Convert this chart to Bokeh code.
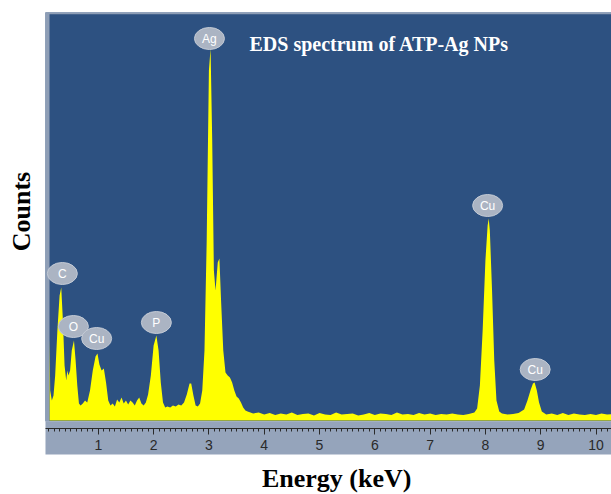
import math
from bokeh.plotting import figure
from bokeh.models import Label, Range1d, SingleIntervalTicker, ColumnDataSource
from bokeh.core.properties import value
from bokeh.embed import file_html
from bokeh.resources import INLINE

# ---- data ----
energy = [0.12, 0.12, 0.13, 0.16, 0.19, 0.22, 0.26, 0.30, 0.33, 0.36, 0.39, 0.42, 0.44, 0.46,
          0.49, 0.52, 0.56, 0.59, 0.62, 0.65, 0.68, 0.72, 0.76, 0.80, 0.85, 0.90, 0.95, 0.985,
          1.02, 1.06, 1.10, 1.14, 1.18, 1.22, 1.26, 1.30, 1.34, 1.38, 1.42, 1.46, 1.50, 1.54,
          1.58, 1.62, 1.66, 1.70, 1.74, 1.78, 1.82, 1.86, 1.90, 1.95, 2.00, 2.05, 2.09, 2.13,
          2.17, 2.21, 2.25, 2.30, 2.35, 2.40, 2.45, 2.50, 2.55, 2.60, 2.65, 2.68, 2.72, 2.76,
          2.80, 2.84, 2.88, 2.92, 2.96, 3.00, 3.03, 3.06, 3.09, 3.12, 3.16, 3.19, 3.22, 3.26,
          3.30, 3.34, 3.38, 3.42, 3.46, 3.50, 3.54, 3.58, 3.62, 3.66, 3.70, 3.80, 3.90, 4.00,
          4.10, 4.20, 4.30, 4.40, 4.50, 4.60, 4.70, 4.80, 4.90, 5.00, 5.10, 5.20, 5.30, 5.40,
          5.50, 5.60, 5.70, 5.80, 5.90, 6.00, 6.10, 6.20, 6.30, 6.40, 6.50, 6.60, 6.70, 6.80,
          6.90, 7.00, 7.10, 7.20, 7.30, 7.40, 7.50, 7.60, 7.70, 7.80, 7.85, 7.90, 7.95, 8.00,
          8.04, 8.06, 8.08, 8.12, 8.16, 8.20, 8.25, 8.30, 8.40, 8.50, 8.60, 8.70, 8.76, 8.82,
          8.86, 8.89, 8.93, 8.97, 9.02, 9.10, 9.20, 9.30, 9.40, 9.50, 9.60, 9.70, 9.80, 9.90,
          10.00, 10.10, 10.20, 10.30]
counts = [0, 830, 300, 200, 250, 450, 900, 1250, 1330, 1000, 550, 400, 500, 450,
          500, 700, 800, 600, 350, 170, 150, 170, 200, 180, 300, 500, 640, 670,
          560, 500, 520, 380, 200, 150, 170, 140, 210, 180, 230, 170, 200, 160,
          200, 180, 150, 200, 230, 170, 150, 180, 260, 450, 750, 850, 700, 380,
          180, 130, 140, 130, 150, 140, 160, 150, 180, 260, 370, 370, 250, 150,
          140, 170, 300, 700, 1800, 3500, 3720, 2800, 1500, 1300, 1580, 1620, 1200, 700,
          480, 450, 430, 380, 300, 240, 220, 180, 130, 100, 90, 70, 80, 60,
          75, 55, 70, 60, 80, 55, 65, 70, 50, 75, 60, 55, 80, 60,
          65, 70, 50, 60, 75, 55, 70, 65, 55, 80, 60, 65, 55, 75,
          60, 70, 55, 65, 60, 70, 60, 55, 65, 80, 120, 350, 900, 1600,
          1950, 2020, 1900, 1300, 600, 200, 90, 70, 60, 65, 75, 110, 200, 310,
          370, 380, 300, 180, 90, 60, 70, 55, 75, 55, 70, 60, 55, 65,
          55, 70, 60, 65]

peak_names = ["C", "O", "Cu", "P", "Ag", "Cu", "Cu"]
peak_energy = [0.35, 0.55, 0.97, 2.05, 3.01, 8.04, 8.90]
peak_label_counts = [1470, 940, 820, 980, 3820, 2150, 510]

title_text = "EDS spectrum of ATP-Ag NPs"
x_title = "Energy (keV)"
y_title = "Counts"

# ---- figure: the frame covers the whole canvas ----
p = figure(width=611, height=494, output_backend="svg", toolbar_location=None,
           x_range=Range1d(-0.7685, 10.280), y_range=Range1d(-740, 4200),
           min_border=0)
p.background_fill_color = "white"
p.border_fill_color = "white"
p.outline_line_color = None
p.grid.visible = False
p.yaxis.visible = False

# plot panel, axis band and panel borders
p.quad(left=0.045, right=11, bottom=-8, top=4080, fill_color="#2d5181", line_color=None)
p.quad(left=0.045, right=11, bottom=-340, top=-8, fill_color="#95a4bb", line_color=None)
p.quad(left=0.045, right=0.118, bottom=-8, top=4080, fill_color="#8e9eb6", line_color=None)
p.quad(left=0.045, right=11, bottom=4062, top=4080, fill_color="#8e9eb6", line_color=None)

# spectrum
p.varea(x=energy, y1=0, y2=counts, fill_color="#ffff00")

# peak label bubbles
src = ColumnDataSource(dict(x=peak_energy, y=peak_label_counts, t=peak_names))
p.ellipse(x="x", y="y", width=30, height=22, width_units="screen", height_units="screen",
          source=src, fill_color="#abb4c3", line_color="#c3cad5", line_width=1)
p.text(x="x", y="y", text="t", source=src, text_color="white", text_font=value("Liberation Sans"),
       text_font_size="12px", text_align="center", text_baseline="middle")

# title inside plot
p.add_layout(Label(x=3.734, y=3770, text=title_text, text_color="white",
                   text_font="Liberation Serif", text_font_style="bold",
                   text_font_size="20px", text_baseline="middle"))

# x axis inside the band
ax = p.xaxis[0]
ax.fixed_location = -80
ax.bounds = (0.045, 10.28)
ax.ticker = SingleIntervalTicker(interval=1, num_minor_ticks=10)
ax.axis_line_color = "#2a2a2a"
ax.major_tick_line_color = "#2a2a2a"
ax.minor_tick_line_color = "#2a2a2a"
ax.major_tick_in = 0
ax.major_tick_out = 6
ax.minor_tick_in = 0
ax.minor_tick_out = 3
ax.major_label_text_font = "Liberation Sans"
ax.major_label_text_font_size = "14px"
ax.major_label_text_color = "#2a2a2a"
ax.major_label_standoff = 5

# axis titles
p.add_layout(Label(x=5.31, y=-580, text=x_title, text_color="black",
                   text_font="Liberation Serif", text_font_style="bold",
                   text_font_size="26px", text_align="center", text_baseline="middle"))
p.add_layout(Label(x=-0.389, y=2090, text=y_title, text_color="black", angle=math.pi / 2,
                   text_font="Liberation Serif", text_font_style="bold",
                   text_font_size="26px", text_align="center", text_baseline="middle"))

open("out.html", "w").write(file_html(p, INLINE))
